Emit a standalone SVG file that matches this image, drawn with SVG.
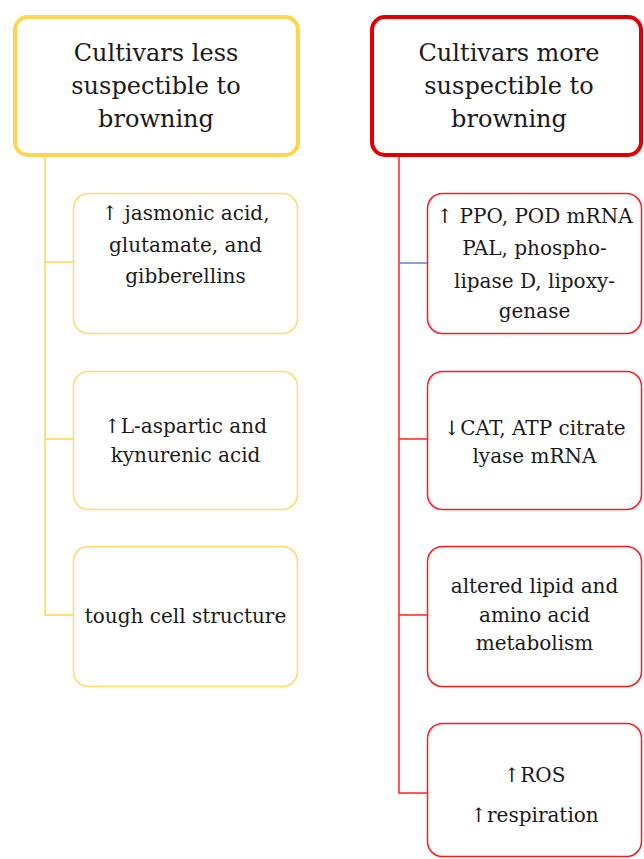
<svg xmlns="http://www.w3.org/2000/svg" width="644" height="859" viewBox="0 0 644 859">
<style>
  .h { font-size: 24px; }
  .t { font-size: 20px; }
  .hy { fill: #ffffff; stroke: #FFD54F; stroke-width: 4; }
  .hr { fill: #ffffff; stroke: #E00000; stroke-width: 4; }
  .cy { fill: #ffffff; stroke: #FFDA6B; stroke-width: 1.5; }
  .cr { fill: #ffffff; stroke: #FF1A1A; stroke-width: 1.5; }
  .ly { fill: none; stroke: #FFD54F; stroke-width: 1.5; }
  .lr { fill: none; stroke: #FF2020; stroke-width: 1.5; }
  .lb { fill: none; stroke: #5B86C5; stroke-width: 1.5; }
</style>
<rect width="644" height="859" fill="#ffffff"/>
<g id="connectors">
  <path class="ly" d="M45 157 V615 H73.5 M45 262 H73.5 M45 439 H73.5"/>
  <path class="lr" d="M399 157 V793 H427.5 M399 439 H427.5 M399 615 H427.5"/>
  <path class="lb" d="M399.8 263 H427"/>
</g>
<g font-family="'DejaVu Serif', serif" fill="#1a1a1a" text-anchor="middle">
<g id="left-header">
  <rect class="hy" x="15" y="17" width="283" height="138" rx="13"/>
  <text class="h" x="156" y="61">Cultivars less</text>
  <text class="h" x="156" y="94">suspectible to</text>
  <text class="h" x="156" y="127">browning</text>
</g>
<g id="right-header">
  <rect class="hr" x="372" y="17" width="269" height="138" rx="13"/>
  <text class="h" x="509" y="61">Cultivars more</text>
  <text class="h" x="509" y="94">suspectible to</text>
  <text class="h" x="509" y="127">browning</text>
</g>
<g id="l1">
  <rect class="cy" x="73.5" y="193.5" width="224" height="140" rx="15"/>
  <text class="t" x="185.5" y="220">↑ jasmonic acid,</text>
  <text class="t" x="185.5" y="252">glutamate, and</text>
  <text class="t" x="185.5" y="283">gibberellins</text>
</g>
<g id="l2">
  <rect class="cy" x="73.5" y="371.5" width="224" height="138" rx="15"/>
  <text class="t" x="185.5" y="433">↑L-aspartic and</text>
  <text class="t" x="185.5" y="462">kynurenic acid</text>
</g>
<g id="l3">
  <rect class="cy" x="73.5" y="546.5" width="224" height="140" rx="15"/>
  <text class="t" x="185.5" y="623">tough cell structure</text>
</g>
<g id="r1">
  <rect class="cr" x="427.5" y="193.5" width="214" height="140" rx="15"/>
  <text class="t" x="534.5" y="223">↑ PPO, POD mRNA</text>
  <text class="t" x="534.5" y="255">PAL, phospho-</text>
  <text class="t" x="534.5" y="288">lipase D, lipoxy-</text>
  <text class="t" x="534.5" y="318">genase</text>
</g>
<g id="r2">
  <rect class="cr" x="427.5" y="371.5" width="214" height="138" rx="15"/>
  <text class="t" x="534.5" y="435">↓CAT, ATP citrate</text>
  <text class="t" x="534.5" y="463">lyase mRNA</text>
</g>
<g id="r3">
  <rect class="cr" x="427.5" y="546.5" width="214" height="140" rx="15"/>
  <text class="t" x="534.5" y="593">altered lipid and</text>
  <text class="t" x="534.5" y="622">amino acid</text>
  <text class="t" x="534.5" y="650">metabolism</text>
</g>
<g id="r4">
  <rect class="cr" x="427.5" y="723.5" width="214" height="133" rx="15"/>
  <text class="t" x="534.5" y="782">↑ROS</text>
  <text class="t" x="534.5" y="822">↑respiration</text>
</g>
</g>
</svg>
